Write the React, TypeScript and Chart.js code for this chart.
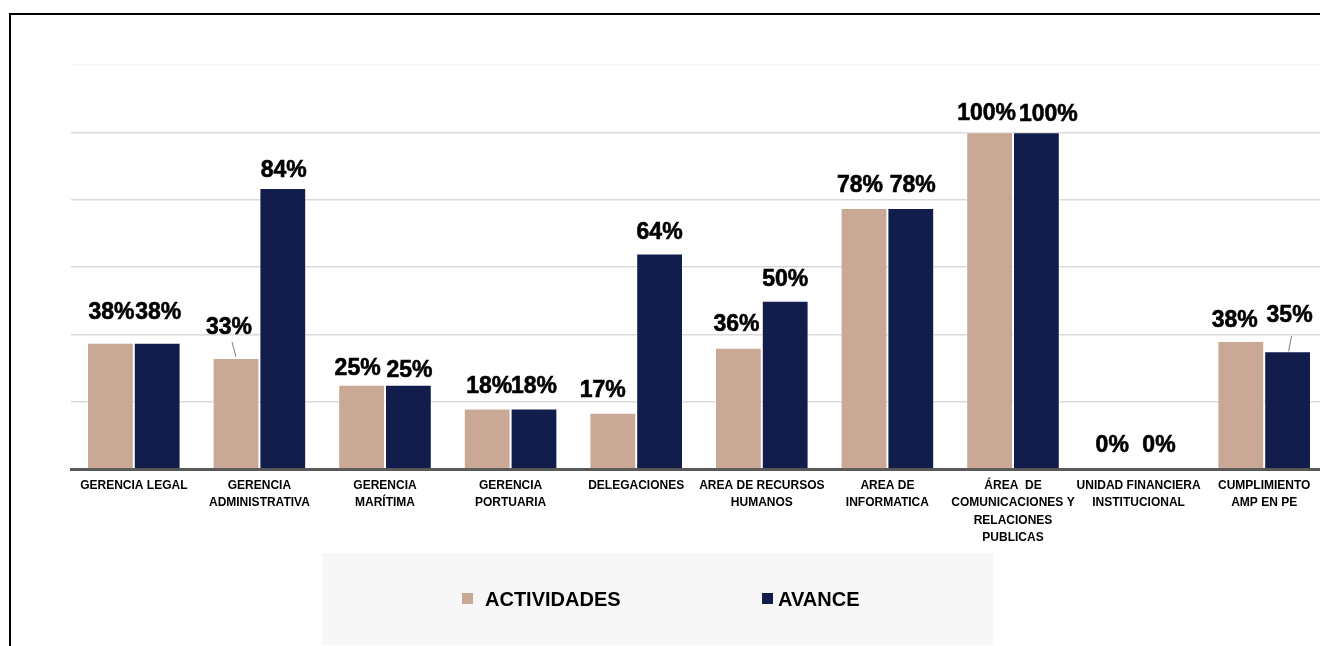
import React, { useEffect, useRef } from "react";
import { Chart, registerables } from "chart.js";

Chart.register(...registerables);

// ---------- DATA ----------
const CATEGORIES: (string | string[])[] = [
  "GERENCIA LEGAL",
  ["GERENCIA", "ADMINISTRATIVA"],
  ["GERENCIA", "MARÍTIMA"],
  ["GERENCIA", "PORTUARIA"],
  "DELEGACIONES",
  ["AREA DE RECURSOS", "HUMANOS"],
  ["AREA DE", "INFORMATICA"],
  ["ÁREA  DE", "COMUNICACIONES Y", "RELACIONES", "PUBLICAS"],
  ["UNIDAD FINANCIERA", "INSTITUCIONAL"],
  ["CUMPLIMIENTO", "AMP EN PE"],
];
const SERIES_NAMES = ["ACTIVIDADES", "AVANCE"];
const ACTIVIDADES = [37.5, 33, 25, 18, 16.7, 36, 77.5, 100, 0, 38];
const AVANCE = [37.5, 83.5, 25, 18, 64, 50, 77.5, 100, 0, 35];
const Y_MIN = 0;
const Y_MAX = 120;
const Y_STEP = 20;

// ---------- STYLE ----------
const COLORS = ["#c9a996", "#121d4b"];
const FONT = "'Liberation Sans', Arial, sans-serif";
// label offsets from the bar's top centre [dx, dy]
const LABEL_OFFSETS: number[][][] = [
  [[1, -30], [-7, -30], [-4, -16], [2, -22], [-10, -22], [-2, -23], [-4, -22], [-3, -19], [-3, -23], [-6, -20]],
  [[1, -30], [1, -17], [1, -14], [0, -22], [0, -21], [0, -21], [2, -22], [12, -18], [-3, -23], [2, -36]],
];
// leader lines: [dataset, index, x1, y1, x2, y2] relative to bar top centre
const LEADERS = [
  [0, 1, 0, -1, -4, -16],
  [1, 9, 1, 0, 4, -15],
];

const labelsPlugin = {
  id: "valueLabels",
  afterDatasetsDraw(chart: any) {
    const ctx = chart.ctx;
    ctx.save();
    ctx.font = `bold 23px ${FONT}`;
    ctx.fillStyle = "#000";
    ctx.strokeStyle = "#000";
    ctx.lineWidth = 0.6;
    ctx.textAlign = "center";
    ctx.textBaseline = "middle";
    chart.data.datasets.forEach((ds: any, di: number) => {
      const meta = chart.getDatasetMeta(di);
      meta.data.forEach((bar: any, i: number) => {
        const v = ds.data[i];
        const [dx, dy] = LABEL_OFFSETS[di][i];
        const t = `${Math.round(v)}%`;
        ctx.fillText(t, bar.x + dx, bar.y + dy);
        ctx.strokeText(t, bar.x + dx, bar.y + dy);
      });
    });
    ctx.strokeStyle = "#7f7f7f";
    ctx.lineWidth = 1;
    LEADERS.forEach(([di, i, x1, y1, x2, y2]) => {
      const bar = chart.getDatasetMeta(di).data[i];
      ctx.beginPath();
      ctx.moveTo(bar.x + x1, bar.y + y1);
      ctx.lineTo(bar.x + x2, bar.y + y2);
      ctx.stroke();
    });
    ctx.restore();
  },
};

const legendPlugin = {
  id: "boxLegend",
  afterDraw(chart: any) {
    const ctx = chart.ctx;
    ctx.save();
    ctx.fillStyle = "#f7f7f7";
    ctx.fillRect(311, 538, 671, 92);
    const items = [
      { box: 451, text: 474 },
      { box: 751, text: 767 },
    ];
    const cy = 584;
    ctx.font = `bold 20px ${FONT}`;
    ctx.textBaseline = "middle";
    ctx.textAlign = "left";
    chart.data.datasets.forEach((ds: any, di: number) => {
      const it = items[di];
      ctx.fillStyle = ds.backgroundColor;
      ctx.fillRect(it.box, cy - 6, 11, 11);
      ctx.fillStyle = "#000";
      ctx.fillText(ds.label, it.text, cy + 1);
    });
    ctx.restore();
  },
};

export default function App() {
  const ref = useRef<HTMLCanvasElement | null>(null);

  useEffect(() => {
    document.body.style.overflow = "hidden";
    if (!ref.current) return;
    const chart = new Chart(ref.current, {
      type: "bar",
      data: {
        labels: CATEGORIES,
        datasets: [
          {
            label: SERIES_NAMES[0],
            data: ACTIVIDADES,
            backgroundColor: COLORS[0],
            borderColor: "rgba(255,255,255,0.55)",
            borderWidth: 1,
            barPercentage: 1,
            categoryPercentage: 0.745,
          },
          {
            label: SERIES_NAMES[1],
            data: AVANCE,
            backgroundColor: COLORS[1],
            borderColor: "rgba(255,255,255,0.45)",
            borderWidth: 1,
            barPercentage: 1,
            categoryPercentage: 0.745,
          },
        ],
      },
      options: {
        responsive: false,
        animation: false,
        devicePixelRatio: 1,
        layout: { padding: { left: 60, right: 14, top: 50, bottom: 96 } },
        plugins: {
          legend: { display: false },
          tooltip: { enabled: false },
        },
        scales: {
          x: {
            grid: { display: false, drawTicks: false },
            border: { display: true, color: "#595959", width: 3 },
            ticks: {
              color: "#000",
              font: { family: FONT, weight: "bold", size: 12, lineHeight: 1.45 },
              maxRotation: 0,
              minRotation: 0,
              autoSkip: false,
              padding: 8,
            },
            afterFit: (s: any) => {
              s.height = 90;
            },
          },
          y: {
            min: Y_MIN,
            max: Y_MAX,
            ticks: { display: false, stepSize: Y_STEP },
            border: { display: false },
            grid: {
              drawTicks: false,
              lineWidth: 1.5,
              color: (c: any) =>
                c.tick && c.tick.value === Y_MAX ? "#f3f3f3" : c.tick && c.tick.value === 0 ? "rgba(0,0,0,0)" : "#d9d9d9",
            },
            afterFit: (s: any) => {
              s.width = 0;
            },
          },
        },
      },
      plugins: [labelsPlugin, legendPlugin],
    });
    return () => chart.destroy();
  }, []);

  return (
    <div style={{ position: "fixed", left: 0, top: 0, width: 1320, height: 646, overflow: "hidden", background: "#fff" }}>
      <div style={{ position: "absolute", left: 9, top: 13, border: "2px solid #000", background: "#fff" }}>
        <canvas ref={ref} width={1330} height={640} style={{ display: "block" }} />
      </div>
    </div>
  );
}
